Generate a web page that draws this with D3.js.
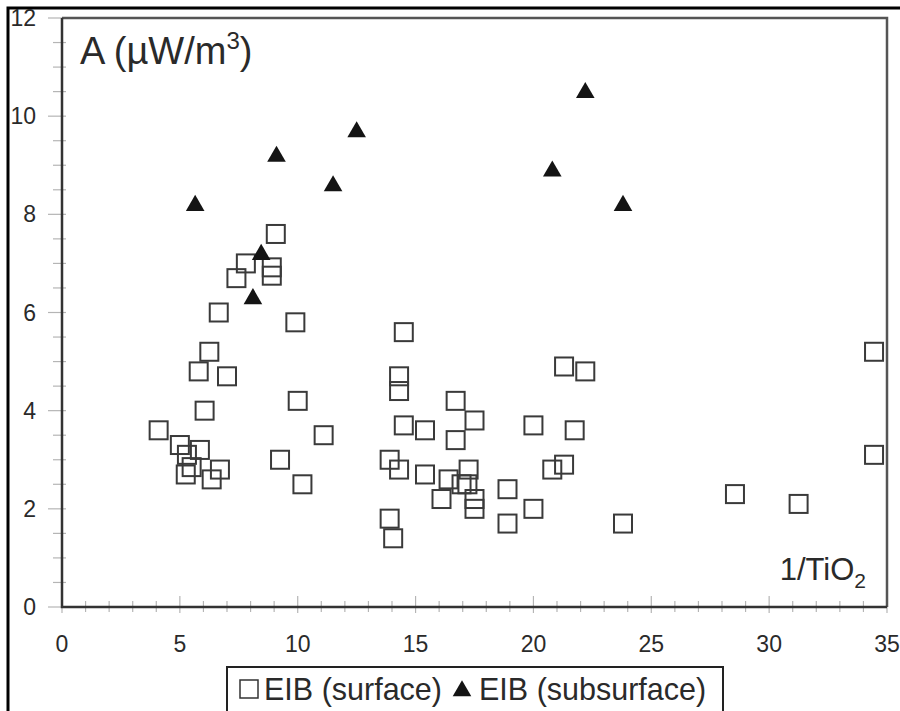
<!DOCTYPE html>
<html lang="en">
<head>
	<meta charset="UTF-8">
	<title>A vs 1/TiO2</title>
	<script src="https://cdn.jsdelivr.net/npm/d3@7"></script>
	<style>
		body { margin: 0; background: #fff; }
		svg text { font-family: "Liberation Sans", Arial, sans-serif; fill: #2a2a2a; }
	</style>
</head>
<body>
	<div id="container"></div>
	<script>
		// EIB surface samples (open squares)
		var surfX = [9.07, 7.8, 8.9, 8.9, 7.4, 6.65, 9.9, 6.25, 5.8, 7.0, 10.0, 6.05, 4.1, 11.1, 5.0, 5.85, 5.3, 5.5, 6.7, 5.25, 6.35, 9.25, 10.2,
			14.5, 14.3, 14.3, 16.7, 17.5, 14.5, 15.4, 16.7, 20.0, 13.9, 14.3, 15.4, 17.25, 16.4, 16.95, 17.2, 16.1, 17.5, 17.5, 18.9, 20.0, 18.9, 13.9, 14.05,
			21.3, 22.2, 21.75, 21.3, 20.8, 23.8, 28.55, 31.25, 34.45, 34.45];
		var surfY = [7.6, 7.0, 6.92, 6.75, 6.7, 6.0, 5.8, 5.2, 4.8, 4.7, 4.2, 4.0, 3.6, 3.5, 3.3, 3.2, 3.1, 2.85, 2.8, 2.7, 2.6, 3.0, 2.5,
			5.6, 4.7, 4.4, 4.2, 3.8, 3.7, 3.6, 3.4, 3.7, 3.0, 2.8, 2.7, 2.8, 2.6, 2.5, 2.5, 2.2, 2.2, 2.0, 2.4, 2.0, 1.7, 1.8, 1.4,
			4.9, 4.8, 3.6, 2.9, 2.8, 1.7, 2.3, 2.1, 5.2, 3.1];

		// EIB subsurface samples (filled triangles)
		var subX = [5.65, 9.1, 12.5, 11.5, 8.45, 8.1, 20.8, 22.2, 23.8];
		var subY = [8.2, 9.2, 9.7, 8.6, 7.2, 6.3, 8.9, 10.5, 8.2];

		var xTicks = [0, 5, 10, 15, 20, 25, 30, 35];
		var yTicks = [0, 2, 4, 6, 8, 10, 12];
		var legendLabels = ["EIB (surface)", "EIB (subsurface)"];

		var width = 900, height = 711;
		var plot = { left: 62, right: 887, top: 18, bottom: 607 };

		var svg = d3.select("#container").append("svg")
			.attr("width", width)
			.attr("height", height);

		svg.append("rect").attr("width", width).attr("height", height).attr("fill", "#fff");

		// outer frame
		svg.append("path")
			.attr("d", "M8," + (height + 5) + "V8H" + (width + 5))
			.attr("fill", "none")
			.attr("stroke", "#000")
			.attr("stroke-width", 3);

		var x = d3.scaleLinear().domain([0, 35]).range([plot.left, plot.right]);
		var y = d3.scaleLinear().domain([0, 12]).range([plot.bottom, plot.top]);

		// minor + major ticks
		var xMinor = d3.range(0, 35.01, 1);
		var yMinor = d3.range(0, 12.01, 0.5);

		svg.append("g").selectAll("line").data(xMinor).enter().append("line")
			.attr("x1", d => x(d)).attr("x2", d => x(d))
			.attr("y1", d => d % 5 === 0 ? plot.bottom - 11 : plot.bottom - 6)
			.attr("y2", d => d % 5 === 0 ? plot.bottom + 6 : plot.bottom + 5)
			.attr("stroke", "#b5b5b5")
			.attr("stroke-width", 1.2);

		svg.append("g").selectAll("line").data(yMinor).enter().append("line")
			.attr("y1", d => y(d)).attr("y2", d => y(d))
			.attr("x1", d => d % 2 === 0 ? plot.left - 14 : plot.left - 9)
			.attr("x2", plot.left + 4)
			.attr("stroke", "#b5b5b5")
			.attr("stroke-width", 1.2);

		// plot frame: right/top lighter, left/bottom axes dark
		svg.append("path")
			.attr("d", "M" + plot.left + "," + plot.top + "H" + plot.right + "V" + plot.bottom)
			.attr("fill", "none")
			.attr("stroke", "#555")
			.attr("stroke-width", 2.5);
		svg.append("path")
			.attr("d", "M" + plot.left + "," + plot.top + "V" + plot.bottom + "H" + plot.right)
			.attr("fill", "none")
			.attr("stroke", "#333")
			.attr("stroke-width", 2.5);

		// tick labels
		svg.append("g").selectAll("text").data(xTicks).enter().append("text")
			.attr("x", d => x(d))
			.attr("y", 652)
			.attr("text-anchor", "middle")
			.style("font-size", "23px")
			.text(d => d);

		svg.append("g").selectAll("text").data(yTicks).enter().append("text")
			.attr("x", 36)
			.attr("y", d => y(d) + 8)
			.attr("text-anchor", "end")
			.style("font-size", "23px")
			.text(d => d);

		// axis titles inside the plot
		var yt = svg.append("text").attr("x", 80).attr("y", 64).style("font-size", "38px");
		yt.append("tspan").text("A (\u00b5W/m");
		yt.append("tspan").attr("dy", -15).style("font-size", "24px").text("3");
		yt.append("tspan").attr("dy", 15).text(")");

		var xt = svg.append("text").attr("x", 866).attr("y", 580).attr("text-anchor", "end").style("font-size", "31px");
		xt.append("tspan").text("1/TiO");
		xt.append("tspan").attr("dy", 8).style("font-size", "21px").text("2");

		// points
		var sq = 18;
		svg.append("g").selectAll("rect").data(d3.range(surfX.length)).enter().append("rect")
			.attr("x", i => x(surfX[i]) - sq / 2)
			.attr("y", i => y(surfY[i]) - sq / 2)
			.attr("width", sq).attr("height", sq)
			.attr("fill", "none")
			.attr("stroke", "#3a3a3a")
			.attr("stroke-width", 2);

		var tri = d3.symbol().type(d3.symbolTriangle).size(150);
		svg.append("g").selectAll("path").data(d3.range(subX.length)).enter().append("path")
			.attr("d", tri)
			.attr("transform", i => "translate(" + x(subX[i]) + "," + (y(subY[i]) + 1) + ")")
			.attr("fill", "#141414");

		// legend
		var lg = svg.append("g");
		lg.append("rect")
			.attr("x", 227).attr("y", 667)
			.attr("width", 496).attr("height", 60)
			.attr("fill", "#fff")
			.attr("stroke", "#222")
			.attr("stroke-width", 2);
		lg.append("rect")
			.attr("x", 240).attr("y", 680).attr("width", 18).attr("height", 18)
			.attr("fill", "none").attr("stroke", "#333").attr("stroke-width", 1.5);
		lg.append("text").attr("x", 264).attr("y", 700).style("font-size", "30.5px").text(legendLabels[0]);
		lg.append("path")
			.attr("d", tri)
			.attr("transform", "translate(462,691)")
			.attr("fill", "#141414");
		lg.append("text").attr("x", 479).attr("y", 700).style("font-size", "30.5px").text(legendLabels[1]);
	</script>
</body>
</html>
